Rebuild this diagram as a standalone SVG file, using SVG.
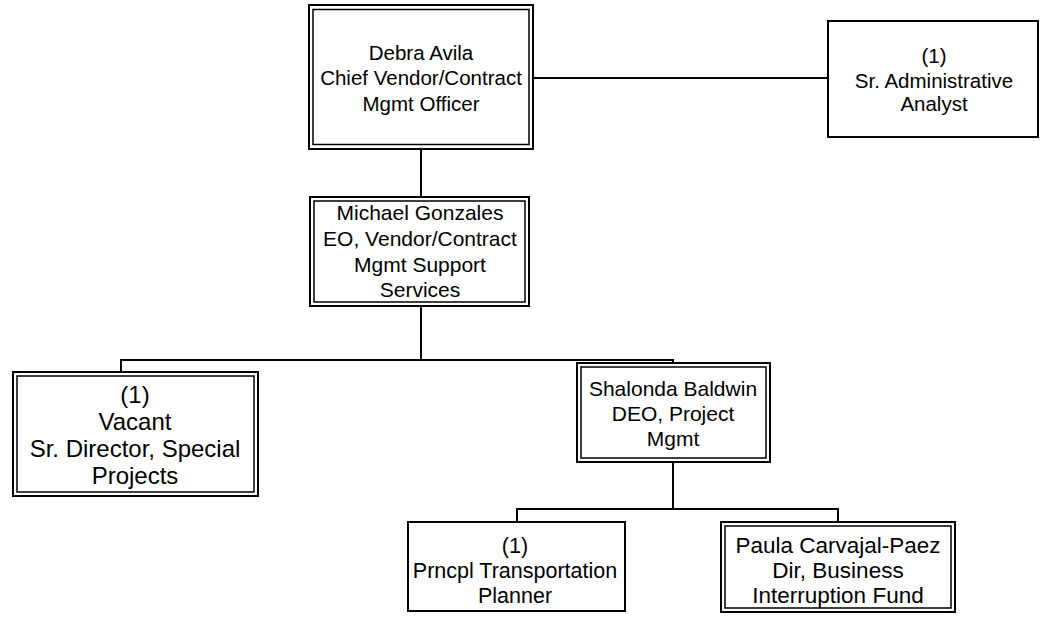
<svg xmlns="http://www.w3.org/2000/svg" width="1042" height="618" viewBox="0 0 1042 618">
<style>
.o{fill:#fff;stroke:#000;stroke-width:2}
.i{fill:none;stroke:#000;stroke-width:1.5}
.s{fill:#fff;stroke:#000;stroke-width:2}
.c{fill:none;stroke:#000;stroke-width:2}
text{font-family:"Liberation Sans",Arial,sans-serif;font-size:21px;fill:#000;text-anchor:middle}
.t20{font-size:20.5px}
.t24{font-size:24px}
.t22{font-size:22.5px}
.t21{font-size:21.5px}
</style>
<rect width="1042" height="618" fill="#fff"/>
<g id="connectors">
<path class="c" d="M533 78H828"/>
<path class="c" d="M421 149V197"/>
<path class="c" d="M421 306V360M121 372V360H673V363"/>
<path class="c" d="M673 462V509M517 522V509H838V522"/>
</g>
<g id="debra">
<rect class="o" x="309" y="5" width="224" height="144"/>
<rect class="i" x="313" y="9.5" width="216" height="135"/>
<text class="t20" x="421" y="59.5">Debra Avila</text>
<text class="t20" x="421" y="85">Chief Vendor/Contract</text>
<text class="t20" x="421" y="110.5">Mgmt Officer</text>
</g>
<g id="analyst">
<rect class="s" x="828" y="21" width="210" height="116"/>
<text class="t20" x="934" y="62.5">(1)</text>
<text class="t20" x="934" y="87.5">Sr. Administrative</text>
<text class="t20" x="934" y="111">Analyst</text>
</g>
<g id="michael">
<rect class="o" x="310" y="197" width="219" height="109"/>
<rect class="i" x="314" y="201" width="211" height="101"/>
<text x="420" y="220">Michael Gonzales</text>
<text x="420" y="246">EO, Vendor/Contract</text>
<text x="420" y="272">Mgmt Support</text>
<text x="420" y="297">Services</text>
</g>
<g id="vacant">
<rect class="o" x="13" y="372" width="245" height="124"/>
<rect class="i" x="17" y="376" width="237" height="116"/>
<text class="t24" x="135" y="403">(1)</text>
<text class="t24" x="135" y="430">Vacant</text>
<text class="t24" x="135" y="457">Sr. Director, Special</text>
<text class="t24" x="135" y="484">Projects</text>
</g>
<g id="shalonda">
<rect class="o" x="577" y="363" width="193" height="99"/>
<rect class="i" x="581" y="367" width="185" height="91"/>
<text x="673" y="395.5">Shalonda Baldwin</text>
<text x="673" y="420.5">DEO, Project</text>
<text x="673" y="445.5">Mgmt</text>
</g>
<g id="prncpl">
<rect class="s" x="408" y="522" width="217" height="89"/>
<text class="t21" x="515" y="552.5">(1)</text>
<text class="t21" x="515" y="577.5">Prncpl Transportation</text>
<text class="t21" x="515" y="602.5">Planner</text>
</g>
<g id="paula">
<rect class="o" x="721" y="522" width="234" height="90"/>
<rect class="i" x="725" y="526" width="226" height="82"/>
<text class="t22" x="838" y="552.5">Paula Carvajal-Paez</text>
<text class="t22" x="838" y="577.5">Dir, Business</text>
<text class="t22" x="838" y="602.5">Interruption Fund</text>
</g>
</svg>
